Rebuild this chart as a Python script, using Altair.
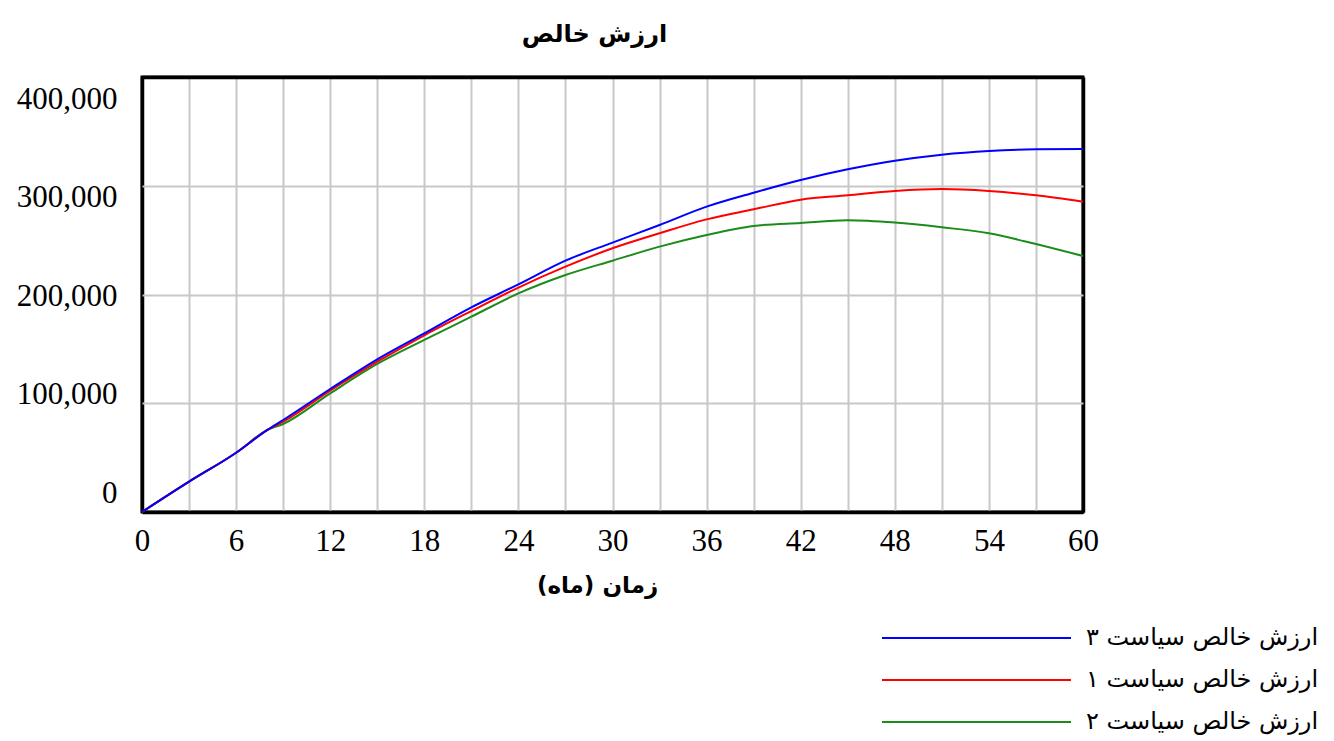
import altair as alt
import pandas as pd

# ---- data ----
months = [0, 3, 6, 8, 9, 12, 15, 18, 21, 24, 27, 30, 33, 36, 39, 42, 45, 48, 51, 54, 57, 60]
policy3 = [0, 27900, 54500, 75500, 84600, 113100, 140400, 164300, 188200, 209300, 231100, 247700,
           263900, 280800, 293600, 305300, 315100, 323000, 328600, 332000, 333500, 333800]
policy1 = [0, 27900, 54500, 75500, 83000, 111600, 138200, 162500, 184800, 206400, 225600, 242500,
           256300, 269100, 278300, 287200, 291200, 295200, 297000, 295200, 291200, 285300]
policy2 = [0, 27900, 54500, 75500, 80900, 109100, 136100, 158200, 179600, 201000, 217900, 231100,
           244000, 254700, 263000, 265800, 268200, 266100, 261800, 256300, 246400, 235400]

series_names = ["ارزش خالص سیاست ۳", "ارزش خالص سیاست ۱", "ارزش خالص سیاست ۲"]
series_colors = ["#0000ff", "#ff0000", "#1a8c1a"]
x_ticks = list(range(0, 61, 3))
y_ticks = [0, 100000, 200000, 300000, 400000]

title_text = "ارزش خالص"
x_title = "زمان (ماه)"

rows = []
for name, vals in zip(series_names, [policy3, policy1, policy2]):
    for t, v in zip(months, vals):
        rows.append({"month": t, "value": v, "series": name})
df = pd.DataFrame(rows)

color = alt.Color(
    "series:N",
    scale=alt.Scale(domain=series_names, range=series_colors),
    legend=alt.Legend(
        title=None,
        orient="none",
        legendX=739,
        legendY=546,
        symbolType="stroke",
        symbolSize=35721,
        symbolStrokeWidth=2,
        clipHeight=30,
        rowPadding=12,
        labelOffset=14,
        labelFont="DejaVu Sans",
        labelFontSize=24,
        labelColor="#000000",
        labelLimit=400,
    ),
)

x_edge = "datum.value == 0 || datum.value == 60"
y_edge = "datum.value == 0 || datum.value == 400000"

x_enc = alt.X(
    "month:Q",
    scale=alt.Scale(domain=[0, 60], nice=False),
    axis=alt.Axis(
        values=x_ticks,
        labelExpr="datum.value % 6 == 0 ? datum.label : ''",
        title=x_title,
        titleFont="DejaVu Sans",
        titleFontSize=23,
        titleFontWeight="bold",
        titleColor="#000000",
        titleX=455,
        titleY=73,
        titleBaseline="middle",
        labelFont="Liberation Serif",
        labelFontSize=31,
        labelColor="#000000",
        labelPadding=14,
        labelFlush=False,
        labelOverlap=False,
        ticks=False,
        domain=False,
        grid=True,
        gridColor={"condition": {"test": x_edge, "value": "#000000"}, "value": "#c8c8c8"},
        gridWidth={"condition": {"test": x_edge, "value": 3.5}, "value": 2},
    ),
)

y_enc = alt.Y(
    "value:Q",
    scale=alt.Scale(domain=[0, 400000], nice=False),
    axis=alt.Axis(
        values=y_ticks,
        format=",d",
        title=None,
        labelFont="Liberation Serif",
        labelFontSize=31,
        labelColor="#000000",
        labelPadding=25,
        labelOffset={"expr": "-19 + datum.value * 0.0001025"},
        labelFlush=False,
        labelOverlap=False,
        ticks=False,
        domain=False,
        grid=True,
        gridColor={"condition": {"test": y_edge, "value": "#000000"}, "value": "#c8c8c8"},
        gridWidth={"condition": {"test": y_edge, "value": 3.5}, "value": 2},
    ),
)

layers = []
for name in [series_names[2], series_names[1], series_names[0]]:
    layers.append(
        alt.Chart(df)
        .transform_filter(alt.datum.series == name)
        .mark_line(strokeWidth=2, interpolate="monotone")
        .encode(x=x_enc, y=y_enc, color=color)
    )

chart = (
    alt.layer(*layers)
    .properties(
        width=941,
        height=435,
        autosize=alt.AutoSizeParams(type="none"),
        padding={"left": 142, "top": 77, "right": 251, "bottom": 229},
        background="white",
        title=alt.TitleParams(
            text=title_text,
            font="DejaVu Sans",
            fontSize=24,
            fontWeight="bold",
            color="#000000",
            anchor="middle",
            dx=-18,
            offset=30,
        ),
    )
    .configure_view(stroke="#000000", strokeWidth=3)
)

chart.save("out.html", embed_options={"renderer": "svg", "actions": False})
